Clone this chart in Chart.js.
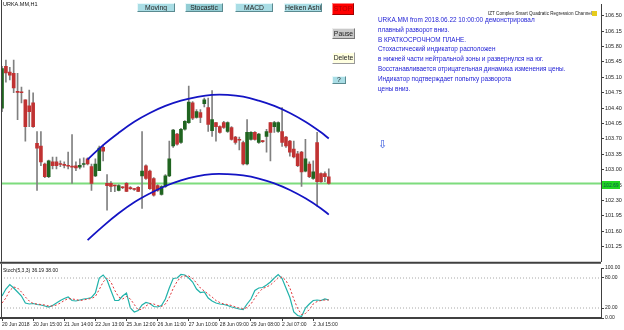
<!DOCTYPE html>
<html><head><meta charset="utf-8">
<script src="https://cdn.jsdelivr.net/npm/chart.js@4/dist/chart.umd.min.js"></script>
<style>
html,body{margin:0;padding:0;background:#fff;width:624px;height:330px;overflow:hidden;font-family:"Liberation Sans",Arial,sans-serif;}
#wrap{position:relative;width:624px;height:330px;}
canvas{position:absolute;left:0;}
#c1{top:0}
#c2{top:264px}
.t{position:absolute;white-space:nowrap;line-height:1;}
.btn{position:absolute;box-sizing:border-box;font-size:6.8px;text-align:center;color:#222;white-space:nowrap;overflow:hidden;border:1px solid;border-color:#e8f8fa #5a8a90 #5a8a90 #e8f8fa;}
#info div{height:9.8px;line-height:9.8px;}
</style>
</head><body><div id="wrap">
<canvas id="c1" width="624" height="266"></canvas>
<canvas id="c2" width="624" height="66"></canvas>

<div class="t" style="left:3px;top:2px;font-size:5.5px;color:#111;">URKA.MM,H1</div>
<div class="btn" style="left:137px;top:3px;width:38px;height:9px;line-height:7px;background:#a9dde5;">Moving</div>
<div class="btn" style="left:185px;top:3px;width:38px;height:9px;line-height:7px;background:#93cdd4;">Stocastic</div>
<div class="btn" style="left:235px;top:3px;width:38px;height:9px;line-height:7px;background:#a9dde5;">MACD</div>
<div class="btn" style="left:284px;top:3px;width:38px;height:9px;line-height:7px;background:#a9dde5;">Heiken Ashi</div>
<div class="btn" style="left:332px;top:3px;width:22px;height:12px;line-height:10px;background:#ff0000;color:#b00000;border-color:#ff8080 #a00000 #a00000 #ff8080;">STOP</div>
<div class="btn" style="left:332px;top:28px;width:23px;height:11px;line-height:9px;background:#c9c9c9;border-color:#eee #777 #777 #eee;">Pause</div>
<div class="btn" style="left:332px;top:52px;width:23px;height:12px;line-height:10px;background:#ffffe0;border-color:#fff #999 #999 #fff;">Delete</div>
<div class="btn" style="left:332px;top:76px;width:14px;height:8px;line-height:6px;background:#a9dde5;">?</div>

<div id="info" class="t" style="left:378px;top:15px;font-size:6.4px;color:#2323d6;">
<div>URKA.MM from 2018.06.22 10:00:00 демонстрировал</div>
<div>плавный разворот вниз.</div>
<div>В КРАТКОСРОЧНОМ ПЛАНЕ.</div>
<div>Стохастический индикатор расположен</div>
<div>в нижней части нейтральной зоны и развернулся на юг.</div>
<div>Восстанавливается отрицательная динамика изменения цены.</div>
<div>Индикатор подтверждает попытку разворота</div>
<div>цены вниз.</div>
</div>
<div class="t" style="left:488px;top:12px;font-size:4.6px;color:#222;">IZT Complex Smart Quadratic Regression Channel</div>
<div class="t" style="left:592px;top:11px;width:5px;height:5px;background:#e6cc1e;"></div>
<div class="t" style="left:378px;top:139px;font-size:11px;color:#3355dd;">⇩</div>
<div class="t" style="left:602px;top:181px;width:18px;height:8px;line-height:8px;font-size:5px;background:#22d422;color:#064;text-align:center;">102.69</div>
<div class="t" style="left:3px;top:268px;font-size:5px;color:#111;">Stoch(5,3,3) 36.19 38.00</div>
</div>
<script>
// ---- data ----
const openP  = [104.40,105.35,105.22,105.19,104.77,104.76,104.59,104.45,104.52,103.60,103.54,103.13,102.84,103.18,103.18,103.13,103.11,103.09,103.08,103.09,103.06,103.12,103.25,103.07,102.86,102.98,103.51,102.69,102.69,102.64,102.53,102.60,102.69,102.58,102.56,102.60,102.86,103.09,102.97,102.80,102.64,102.44,102.62,102.86,103.54,103.81,103.62,103.92,104.07,104.52,104.19,104.30,104.50,104.41,103.89,104.07,103.98,104.07,103.87,103.96,103.74,103.69,103.62,103.13,103.69,103.85,103.62,103.65,103.76,104.07,103.98,103.87,103.87,103.74,103.65,103.47,103.36,103.40,102.97,103.13,102.80,103.62,102.91,102.91,102.84];
const highP  = [105.35,105.49,105.33,105.49,105.19,104.88,104.59,104.81,104.75,103.87,103.87,103.15,103.22,103.29,103.29,103.20,103.18,103.40,103.80,103.18,103.25,103.27,103.27,103.13,103.25,103.54,103.56,102.89,102.73,102.65,102.66,102.62,102.71,102.62,102.58,102.62,103.87,103.11,102.99,102.82,102.66,102.64,102.89,103.65,103.92,103.83,103.94,104.12,104.90,104.55,104.37,104.37,104.63,104.63,104.80,104.07,104.00,104.10,104.09,103.98,103.76,103.74,103.65,104.14,103.87,103.87,103.83,103.67,103.92,104.07,104.10,104.09,104.41,103.76,103.67,103.65,103.42,103.42,103.69,103.18,103.20,103.85,102.93,102.95,103.02];
const lowP   = [104.32,104.99,105.04,104.75,104.14,104.52,103.65,103.98,103.96,102.53,103.09,102.82,102.82,103.02,103.02,103.07,103.04,103.02,102.69,102.98,103.02,103.06,103.11,102.53,102.84,102.98,103.20,102.08,102.50,102.50,102.52,102.57,102.50,102.55,102.53,102.50,102.12,102.78,102.55,102.40,102.51,102.42,102.60,102.84,103.51,103.56,103.60,103.90,104.05,104.14,104.17,104.07,104.43,103.87,103.76,103.65,103.83,103.94,103.85,103.67,103.58,103.45,103.11,103.11,103.67,103.67,103.60,103.62,103.40,103.20,103.85,103.85,103.53,103.51,103.31,103.27,103.07,102.62,102.95,102.82,102.78,102.17,102.71,102.73,102.67];
const closeP = [105.30,105.20,105.15,104.86,104.76,104.75,103.98,104.32,103.98,103.49,103.18,102.84,103.20,103.09,103.09,103.12,103.10,103.08,103.06,103.04,103.10,103.13,103.13,102.69,103.13,103.49,103.42,102.64,102.62,102.63,102.64,102.59,102.51,102.57,102.55,102.51,102.97,102.80,102.57,102.42,102.53,102.62,102.86,103.25,103.90,103.58,103.92,104.10,104.54,104.17,104.32,104.19,104.59,104.03,104.14,103.98,103.85,103.96,104.07,103.69,103.62,103.67,103.13,103.85,103.85,103.69,103.81,103.64,103.87,103.85,104.07,104.07,103.62,103.54,103.40,103.29,103.09,102.95,103.25,102.84,102.95,102.73,102.73,102.84,102.69];
const curveIdx   = [22,26,30,34,38,42,46,50,54,58,62,66,70,74,78,82,84];
const upperCurve = [103.23,103.56,103.84,104.09,104.29,104.45,104.57,104.65,104.70,104.70,104.66,104.57,104.45,104.29,104.09,103.85,103.71];
const lowerCurve = [101.40,101.72,102.01,102.26,102.46,102.63,102.76,102.85,102.90,102.90,102.87,102.80,102.69,102.54,102.35,102.12,101.98];
const lastPrice = 102.69;
const priceTicks = [101.25,101.60,101.95,102.30,102.65,103.00,103.35,103.70,104.05,104.40,104.75,105.10,105.45,105.80,106.15,106.50];
const stochK = [44,58,67,60,52,44,30,28,29,27,26,24,22,25,30,35,39,42,35,34,36,38,39,41,50,80,86,76,55,35,35,44,50,20,12,15,26,31,29,23,22,25,38,60,79,80,87,86,80,72,58,51,52,40,34,30,28,27,25,22,20,18,17,28,38,55,60,61,66,72,80,87,79,60,41,12,5,3,20,28,35,36,35,38,36];
const stochD = [30,40,55,62,60,52,42,34,29,28,27,26,24,24,26,30,35,39,38,37,35,36,38,39,43,57,72,80,72,55,42,38,43,38,27,16,18,24,29,28,25,23,28,41,59,73,82,84,84,79,70,60,54,48,42,35,31,28,27,25,22,20,18,21,28,40,51,59,62,66,73,80,82,75,60,38,19,7,9,17,28,33,35,36,36];
const stochLevels = [20,80];
const stochTicks = [0,20,80,100];
const xTickIdx = [0,8,16,24,32,40,48,56,64,72,80];
const xTickLabels = ["20 Jun 2018","20 Jun 15:00","21 Jun 14:00","22 Jun 13:00","25 Jun 12:00","26 Jun 11:00","27 Jun 10:00","28 Jun 09:00","29 Jun 08:00","2 Jul 07:00","2 Jul 15:00"];

// ---- chart ----
const XMIN = -0.26, XMAX = 153.98;
Chart.defaults.font.family = '"Liberation Sans", Arial, sans-serif';
Chart.defaults.color = '#222';

const wicks = [], ups = [], downs = [];
for (let i = 0; i < openP.length; i++) {
  wicks.push({x: i, y: [lowP[i], highP[i]]});
  if (closeP[i] >= openP[i]) ups.push({x: i, y: [openP[i], closeP[i]]});
  else downs.push({x: i, y: [closeP[i], openP[i]]});
}
const frame = {
  id: 'frame',
  afterDraw(chart, args, opts) {
    const {ctx, chartArea: a} = chart;
    ctx.save();
    ctx.strokeStyle = '#404040';
    ctx.lineWidth = 1;
    ctx.beginPath(); ctx.moveTo(a.left + 0.5, 0); ctx.lineTo(a.left + 0.5, a.bottom); ctx.stroke();
    if (opts.bottom) { ctx.lineWidth = 2; ctx.beginPath(); ctx.moveTo(0, a.bottom + 1); ctx.lineTo(a.right, a.bottom + 1); ctx.stroke(); }
    ctx.restore();
  }
};

new Chart(document.getElementById('c1'), {
  type: 'bar',
  data: {
    datasets: [
      {type: 'line', data: [{x: XMIN, y: lastPrice}, {x: XMAX, y: lastPrice}], borderColor: '#7ddc7d', borderWidth: 2, pointRadius: 0, order: 6},
      {data: wicks, backgroundColor: '#808080', barThickness: 1, grouped: false, order: 5},
      {data: ups, backgroundColor: '#206420', barThickness: 3, grouped: false, minBarLength: 1, order: 4},
      {data: downs, backgroundColor: '#c03232', barThickness: 3, grouped: false, minBarLength: 1, order: 3},
      {type: 'line', data: curveIdx.map((x, k) => ({x, y: upperCurve[k]})), borderColor: '#1414c4', borderWidth: 1.8, pointRadius: 0, tension: 0.4, order: 1},
      {type: 'line', data: curveIdx.map((x, k) => ({x, y: lowerCurve[k]})), borderColor: '#1414c4', borderWidth: 1.8, pointRadius: 0, tension: 0.4, order: 1}
    ]
  },
  options: {
    responsive: false, animation: false, devicePixelRatio: 1,
    layout: {padding: {left: 1, top: 3, right: 0, bottom: 1}},
    plugins: {legend: {display: false}, tooltip: {enabled: false}, frame: {bottom: true}},
    scales: {
      x: {type: 'linear', min: XMIN, max: XMAX, offset: false, display: false},
      y: {
        position: 'right', min: 100.91, max: 106.76,
        afterFit: s => { s.width = 23; },
        afterBuildTicks: s => { s.ticks = priceTicks.map(v => ({value: v})); },
        ticks: {autoSkip: false, font: {size: 5.5}, padding: 1, callback: v => Number(v).toFixed(2)},
        grid: {drawOnChartArea: false, drawTicks: true, tickLength: 3, color: '#404040'},
        border: {display: true, color: '#404040'}
      }
    }
  },
  plugins: [frame]
});

new Chart(document.getElementById('c2'), {
  type: 'line',
  data: {
    datasets: [
      ...stochLevels.map(l => ({data: [{x: XMIN, y: l}, {x: XMAX, y: l}], borderColor: '#a8a8a8', borderWidth: 1, borderDash: [1, 2], pointRadius: 0})),
      {data: stochD.map((y, x) => ({x, y})), borderColor: '#e0353a', borderWidth: 1, borderDash: [2, 2], pointRadius: 0},
      {data: stochK.map((y, x) => ({x, y})), borderColor: '#20b2aa', borderWidth: 1.2, pointRadius: 0}
    ]
  },
  options: {
    responsive: false, animation: false, devicePixelRatio: 1,
    layout: {padding: {left: 1, top: 2, right: 0, bottom: 0}},
    plugins: {legend: {display: false}, tooltip: {enabled: false}, frame: {bottom: false}},
    scales: {
      x: {
        type: 'linear', min: XMIN, max: XMAX, offset: false,
        afterFit: s => { s.height = 12; },
        afterBuildTicks: s => { s.ticks = xTickIdx.map(v => ({value: v})); },
        ticks: {autoSkip: false, maxRotation: 0, align: 'start', font: {size: 5}, padding: 1,
                callback: v => xTickLabels[xTickIdx.indexOf(v)]},
        grid: {drawOnChartArea: false, drawTicks: true, tickLength: 3, color: '#404040'},
        border: {display: true, color: '#404040', width: 2}
      },
      y: {
        position: 'right', min: 0, max: 100,
        afterFit: s => { s.width = 23; },
        afterBuildTicks: s => { s.ticks = stochTicks.map(v => ({value: v})); },
        ticks: {autoSkip: false, font: {size: 5}, padding: 1, callback: v => Number(v).toFixed(2)},
        grid: {drawOnChartArea: false, drawTicks: true, tickLength: 3, color: '#404040'},
        border: {display: true, color: '#404040'}
      }
    }
  },
  plugins: [frame]
});
</script>
</body></html>
